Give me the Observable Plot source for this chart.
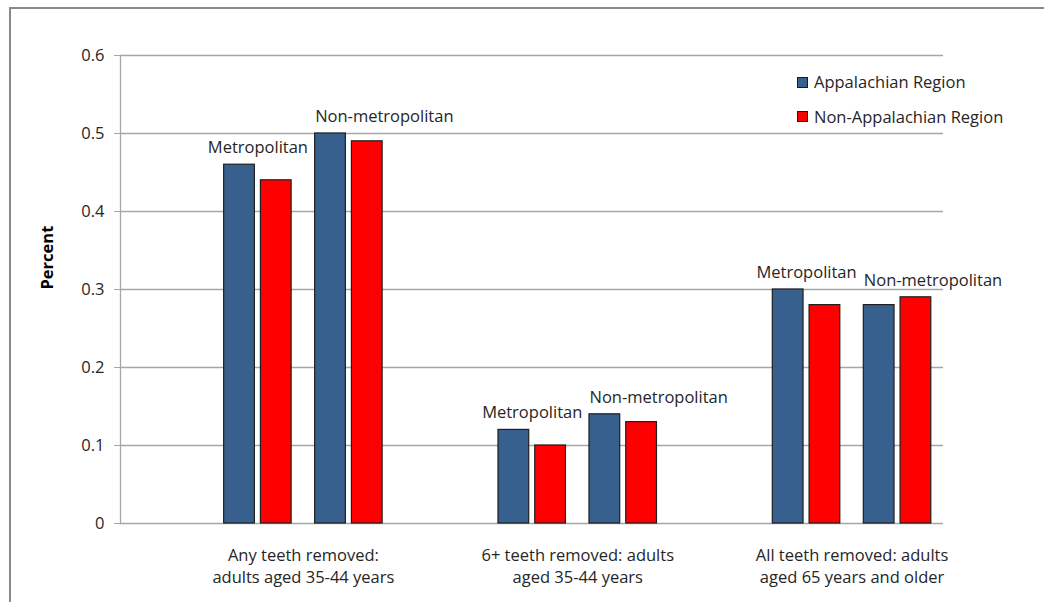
<!DOCTYPE html>
<html>
<head>
<meta charset="utf-8">
<script src="https://cdn.jsdelivr.net/npm/d3@7"></script>
<script src="https://cdn.jsdelivr.net/npm/@observablehq/plot@0.6"></script>
<style>
  html, body { margin: 0; padding: 0; background: #fff; }
  #chart { position: relative; width: 1044px; height: 602px; overflow: hidden; font-family: "Open Sans", sans-serif; color: #262626; }
  #border { position: absolute; left: 9px; top: 7px; width: 1200px; height: 800px; border: 2px solid #8a8a8a; box-sizing: border-box; }
  #plot { position: absolute; left: 0; top: 0; }
  #legend { position: absolute; left: 797px; top: 65px; font-size: 16.5px; line-height: 34.5px; }
  #legend .row { display: flex; align-items: center; white-space: nowrap; }
  #legend .sw { width: 9px; height: 9px; border: 1px solid #1a1a1a; margin-right: 6px; }
</style>
</head>
<body>
<div id="chart">
  <div id="border"></div>
  <div id="plot"></div>
  <div id="legend"></div>
</div>
<script>
// Outcome groups, with their two-line axis labels
const groups = [
  "Any teeth removed: adults aged 35-44 years",
  "6+ teeth removed: adults aged 35-44 years",
  "All teeth removed: adults aged 65 years and older"
];
const groupLabels = [
  "Any teeth removed:\nadults aged 35-44 years",
  "6+ teeth removed: adults\naged 35-44 years",
  "All teeth removed: adults\naged 65 years and older"
];
const areas = ["Metropolitan", "Non-metropolitan"];
const regions = ["Appalachian Region", "Non-Appalachian Region"];
const regionColors = ["#37608f", "#ff0000"];

// Share of adults (proportion) by group
const appalachianMetro = [0.46, 0.12, 0.30];
const nonAppalachianMetro = [0.44, 0.10, 0.28];
const appalachianNonMetro = [0.50, 0.14, 0.28];
const nonAppalachianNonMetro = [0.49, 0.13, 0.29];

const yTicks = [0, 0.1, 0.2, 0.3, 0.4, 0.5, 0.6];
const yTickLabels = ["0", "0.1", "0.2", "0.3", "0.4", "0.5", "0.6"];

// Bar geometry within a group, in group-step units
const barW = 0.112, innerGap = 0.022, pairGap = 0.0857;
const groupW = 4 * barW + 2 * innerGap + pairGap;
const slotLeft = (slot) => -groupW / 2 + slot * (barW + innerGap) + (slot >= 2 ? pairGap - innerGap : 0);

const series = [
  {area: areas[0], region: regions[0], values: appalachianMetro, slot: 0},
  {area: areas[0], region: regions[1], values: nonAppalachianMetro, slot: 1},
  {area: areas[1], region: regions[0], values: appalachianNonMetro, slot: 2},
  {area: areas[1], region: regions[1], values: nonAppalachianNonMetro, slot: 3}
];

const bars = [];
groups.forEach((g, i) => {
  series.forEach(s => {
    const x1 = i + slotLeft(s.slot);
    bars.push({group: g, gi: i, area: s.area, region: s.region, value: s.values[i], x1, x2: x1 + barW});
  });
});

// One label per area pair, sitting above the taller bar of the pair
const areaLabels = [];
groups.forEach((g, i) => {
  areas.forEach((a) => {
    const pair = bars.filter(b => b.gi === i && b.area === a);
    const left = d3.min(pair, b => b.x1), right = d3.max(pair, b => b.x2);
    areaLabels.push({text: a, left, mid: (left + right) / 2, y: d3.max(pair, b => b.value)});
  });
});
const metroLabels = areaLabels.filter(d => d.text === areas[0]);
const nonMetroLabels = areaLabels.filter(d => d.text === areas[1]);

const plot = Plot.plot({
  width: 1044,
  height: 602,
  marginLeft: 120,
  marginRight: 101,
  marginTop: 55,
  marginBottom: 79,
  style: {fontFamily: "Open Sans, sans-serif", fontSize: "16.5px", color: "#262626", background: "transparent", overflow: "visible"},
  x: {type: "linear", domain: [-2 / 3, 7 / 3], axis: null},
  y: {domain: [0, 0.6], axis: null},
  color: {domain: regions, range: regionColors},
  marks: [
    Plot.ruleY(yTicks, {stroke: "#a6a6a6", strokeWidth: 1.3}),
    Plot.frame({anchor: "left", stroke: "#a6a6a6", strokeWidth: 1.3}),
    Plot.axisY({
      ticks: yTicks,
      tickFormat: (d) => yTickLabels[yTicks.indexOf(d)],
      tickSize: 6,
      tickPadding: 10,
      stroke: "#a6a6a6",
      strokeOpacity: 1,
      label: null
    }),
    Plot.rectY(bars, {
      x1: "x1", x2: "x2", y1: 0, y2: "value",
      fill: "region",
      stroke: "#1f1f1f",
      strokeWidth: 1.2
    }),
    Plot.text(metroLabels, {
      x: "mid", y: "y", text: "text",
      textAnchor: "middle",
      dy: -17,
      lineAnchor: "middle",
      fill: "#262626"
    }),
    Plot.text(nonMetroLabels, {
      x: "left", y: "y", text: "text",
      textAnchor: "start",
      dy: -17,
      lineAnchor: "middle",
      fill: "#262626"
    }),
    Plot.text(groupLabels, {
      x: (d, i) => i, y: 0, text: (d) => d,
      lineAnchor: "top",
      lineHeight: 1.38,
      dy: 21,
      fill: "#262626"
    }),
    Plot.text(["Percent"], {
      frameAnchor: "left",
      rotate: -90,
      dx: -73,
      fontWeight: "bold",
      fill: "#000"
    })
  ]
});
document.getElementById("plot").appendChild(plot);

// Legend swatches
const legend = document.getElementById("legend");
regions.forEach((r, i) => {
  const row = document.createElement("div");
  row.className = "row";
  const sw = document.createElement("span");
  sw.className = "sw";
  sw.style.background = regionColors[i];
  const label = document.createElement("span");
  label.textContent = r;
  row.appendChild(sw);
  row.appendChild(label);
  legend.appendChild(row);
});
</script>
</body>
</html>
